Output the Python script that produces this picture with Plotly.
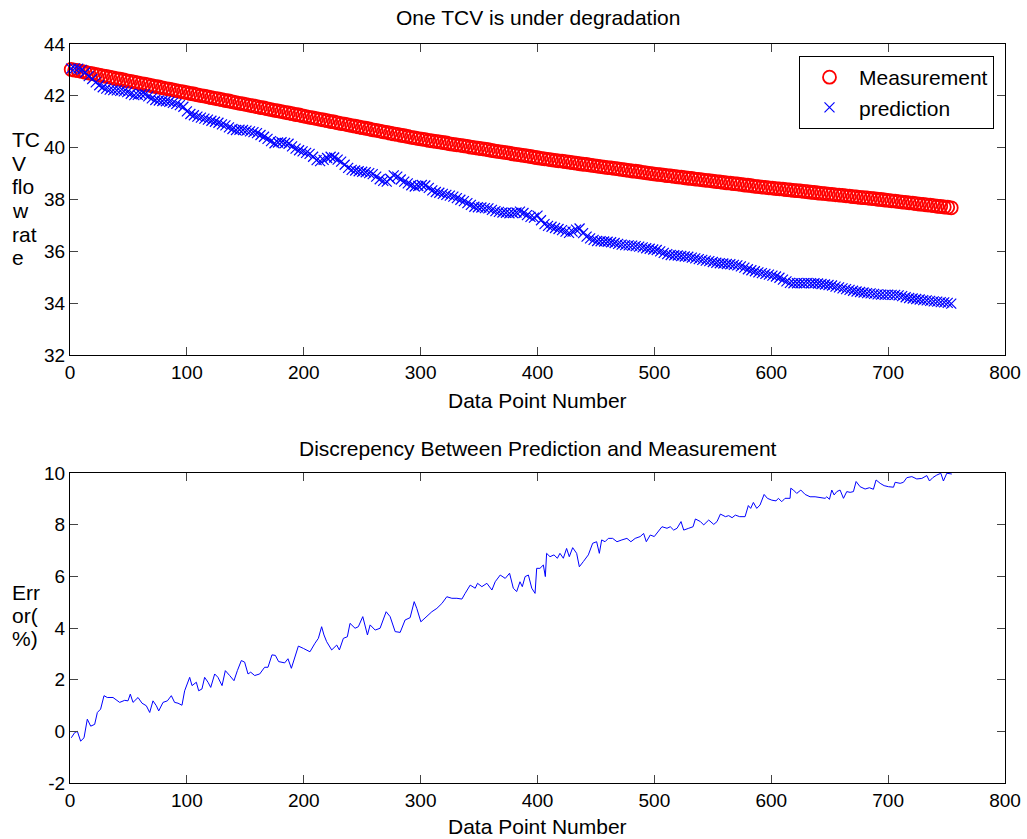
import plotly.graph_objects as go

# ---------------- data ----------------
# Top panel: sampled every 3 data points starting at point 1
measurement = [
    43.02, 42.99, 42.97, 42.94, 42.91, 42.88, 42.86, 42.83, 42.80, 42.77,
    42.75, 42.72, 42.69, 42.66, 42.64, 42.61, 42.58, 42.56, 42.53, 42.50,
    42.47, 42.45, 42.42, 42.39, 42.36, 42.34, 42.31, 42.28, 42.26, 42.23,
    42.20, 42.17, 42.15, 42.12,
    42.09, 42.07, 42.04, 42.01, 41.99, 41.96, 41.93, 41.90, 41.88, 41.85,
    41.82, 41.80, 41.77, 41.74, 41.71, 41.69, 41.66, 41.63, 41.61, 41.58,
    41.55, 41.53, 41.50, 41.47, 41.44, 41.42, 41.39, 41.36, 41.34, 41.31,
    41.28, 41.26, 41.23,
    41.20, 41.17, 41.15, 41.12, 41.09, 41.07, 41.04, 41.01, 40.99, 40.96,
    40.93, 40.91, 40.88, 40.85, 40.83, 40.80, 40.77, 40.75, 40.72, 40.69,
    40.67, 40.64, 40.61, 40.59, 40.56, 40.53, 40.51, 40.48, 40.46, 40.43,
    40.40, 40.38, 40.35, 40.33,
    40.31, 40.28, 40.26, 40.24, 40.22, 40.20, 40.18, 40.15, 40.13, 40.11,
    40.09, 40.07, 40.05, 40.02, 40.00, 39.98, 39.96, 39.94, 39.92, 39.89,
    39.87, 39.85, 39.83, 39.81, 39.79, 39.76, 39.74, 39.72, 39.70, 39.68,
    39.66, 39.63, 39.61,
    39.59, 39.57, 39.55, 39.53, 39.51, 39.49, 39.48, 39.46, 39.44, 39.42,
    39.40, 39.38, 39.36, 39.35, 39.33, 39.31, 39.29, 39.27, 39.25, 39.23,
    39.22, 39.20, 39.18, 39.16, 39.14, 39.12, 39.10, 39.09, 39.07, 39.05,
    39.03, 39.01, 38.99,
    38.97, 38.96, 38.94, 38.92, 38.91, 38.89, 38.87, 38.86, 38.84, 38.82,
    38.81, 38.79, 38.78, 38.76, 38.74, 38.73, 38.71, 38.69, 38.68, 38.66,
    38.64, 38.63, 38.61, 38.60, 38.58, 38.56, 38.55, 38.53, 38.51, 38.50,
    38.48, 38.47, 38.45,
    38.44, 38.42, 38.41, 38.40, 38.38, 38.37, 38.35, 38.34, 38.33, 38.31,
    38.30, 38.28, 38.27, 38.25, 38.24, 38.23, 38.21, 38.20, 38.18, 38.17,
    38.16, 38.14, 38.13, 38.11, 38.10, 38.08, 38.07, 38.06, 38.04, 38.03,
    38.01, 38.00, 37.98, 37.97,
    37.95, 37.94, 37.92, 37.90, 37.89, 37.87, 37.86, 37.84, 37.82, 37.81,
    37.79, 37.78, 37.76, 37.74, 37.73, 37.71, 37.70, 37.68,
]
prediction = [
    43.05, 43.06, 43.05, 43.00, 42.90, 42.76, 42.65, 42.52, 42.41, 42.33,
    42.28, 42.24, 42.22, 42.21, 42.19, 42.17, 42.14, 42.08, 42.03, 42.04,
    42.06, 42.06, 41.98, 41.90, 41.84, 41.82, 41.80, 41.79, 41.77, 41.73,
    41.69, 41.64, 41.58, 41.40,
    41.30, 41.25, 41.20, 41.16, 41.12, 41.08, 41.04, 41.00, 40.96, 40.90,
    40.86, 40.78, 40.72, 40.68, 40.69, 40.68, 40.66, 40.63, 40.60, 40.56,
    40.49, 40.42, 40.34, 40.25, 40.17, 40.20, 40.21, 40.18, 40.15, 40.05,
    39.96, 39.90, 39.86,
    39.80, 39.76, 39.65, 39.52, 39.48, 39.53, 39.60, 39.65, 39.62, 39.54,
    39.46, 39.34, 39.22, 39.14, 39.12, 39.09, 39.07, 39.05, 39.02, 38.98,
    38.88, 38.78, 38.72, 38.69, 38.80, 38.93, 38.88, 38.77, 38.69, 38.62,
    38.55, 38.50, 38.52, 38.56,
    38.54, 38.45, 38.35, 38.29, 38.26, 38.22, 38.18, 38.15, 38.11, 38.05,
    37.99, 37.94, 37.86, 37.79, 37.72, 37.70, 37.69, 37.67, 37.66, 37.60,
    37.55, 37.52, 37.50, 37.49, 37.47, 37.48, 37.50, 37.53, 37.48, 37.40,
    37.33, 37.30, 37.38,
    37.20, 37.05, 36.98, 36.95, 36.90, 36.86, 36.82, 36.76, 36.71, 36.76,
    36.84, 36.88, 36.70, 36.57, 36.50, 36.44, 36.40, 36.39, 36.38, 36.37,
    36.35, 36.32, 36.29, 36.26, 36.24, 36.23, 36.22, 36.20, 36.18, 36.15,
    36.12, 36.10, 36.07,
    36.05, 36.00, 35.94, 35.89, 35.86, 35.85, 35.84, 35.82, 35.80, 35.79,
    35.76, 35.73, 35.70, 35.67, 35.64, 35.62, 35.59, 35.56, 35.54, 35.53,
    35.51, 35.50, 35.48, 35.46, 35.42, 35.37, 35.31, 35.27, 35.23, 35.19,
    35.16, 35.13, 35.10,
    35.06, 35.03, 34.98, 34.91, 34.84, 34.78, 34.77, 34.77, 34.77, 34.77,
    34.78, 34.77, 34.77, 34.76, 34.74, 34.72, 34.70, 34.68, 34.64, 34.61,
    34.57, 34.54, 34.51, 34.48, 34.45, 34.43, 34.41, 34.39, 34.38, 34.36,
    34.34, 34.33, 34.32, 34.33,
    34.32, 34.32, 34.30, 34.27, 34.23, 34.20, 34.18, 34.16, 34.14, 34.12,
    34.11, 34.09, 34.07, 34.06, 34.04, 34.03, 34.01, 33.98,
]
sample_points = list(range(1, 1 + 3 * len(measurement), 3))

# Bottom panel: error (%) read at data point positions
error_points = [
    1.1, 4.0, 6.3, 9.1, 12, 14.8, 17.7, 21.1, 23.4, 26.2, 29.1, 31.9, 36.8, 42.5,
    46.8, 49.6, 51.6, 53.9, 58.2, 61.6, 65.3, 68.2, 71, 73.9, 75.9, 79.6, 83.3,
    86.7, 89.5, 92.4, 95.8, 98.1, 102.4, 104.4, 108.1, 110.1, 112.9, 115.2,
    118.1, 120.4, 123.8, 126.6, 130.1, 132.9, 136.6, 140.3, 143.2, 146.6, 149.4,
    152.3, 154.6, 158, 162.3, 166.5, 169.4, 172.8, 175.7, 178.5, 183.7, 186.5,
    189.4, 192.2, 195.4, 199.7, 205.3, 209.6, 212.5, 215.3, 217.3, 219.6, 223.9,
    228.2, 230.5, 233.9, 237.3, 239.6, 243.9, 246.7, 250.5, 254.5, 256.8, 261.1,
    265.3, 270.5, 273.9, 278.2, 282.5, 286.7, 291, 294.5, 296.7, 300.2, 305.3,
    309.6, 313.9, 318.2, 322.4, 326.7, 331, 335.3, 338.1, 342.4, 346.7, 348.7,
    352.4, 356.7, 361, 363.8, 368.1, 372.4, 376.1, 379.3, 382.2, 385, 387,
    389.4, 392.2, 395.1, 397.9, 399.3, 402.1, 405, 406.7, 407.8, 410.7, 414.1,
    417, 419.2, 422.1, 424.9, 427.2, 430.1, 433.5, 435.8, 439.2, 443.5, 447.2,
    450.6, 452.9, 454.9, 457.8, 460.6, 464.3, 468, 472.2, 476.5, 479.9, 483.6,
    487.9, 490.8, 493.1, 496.5, 499.9, 503.6, 506.5, 510.8, 513.6, 516.5, 519.4,
    522.8, 525.1, 529.4, 533.1, 535.1, 539.4, 542.2, 546.5, 550.8, 553.6, 556.5,
    560.8, 563.6, 566.5, 569.3, 573, 577.6, 580.4, 582.4, 584.7, 587.6, 590.4,
    593.9, 596.7, 600.4, 604.1, 606.1, 609, 611.8, 616.1, 616.7, 619, 621.8,
    625.3, 629, 633.2, 637.5, 641.8, 646.1, 647.5, 649.8, 651.8, 653.8, 656.1,
    658.9, 661.8, 664.6, 667.5, 670.3, 672.6, 676, 680.3, 684, 687.4, 689.7,
    693.2, 696.6, 700.3, 704.6, 706, 710.3, 713.1, 716, 720.3, 724.5, 728.8,
    733.1, 735.4, 738.2, 741.6, 745.1, 747.3, 750.2, 754.5,
]
error_pct = [
    -0.25, -0.05, 0.0, -0.38, -0.25, 0.47, 0.2, 0.27, 0.73, 0.86, 1.38, 1.31, 1.31, 1.12,
    1.2, 1.18, 1.44, 1.12, 1.31, 1.09, 0.99, 0.73, 1.18, 0.99, 0.79, 1.12, 1.18,
    1.38, 1.12, 1.09, 1.01, 1.57, 2.09, 1.77, 1.9, 1.57, 1.64, 2.09,
    1.9, 1.7, 2.22, 2.09, 1.77, 2.35, 2.16, 1.96, 2.35, 2.74, 2.68,
    2.22, 2.29, 2.16, 2.22, 2.48, 2.48, 2.96, 2.94, 2.7, 2.65, 2.81,
    2.44, 2.81, 3.3, 3.21, 3.08, 3.41, 3.6, 4.05, 3.73, 3.47, 3.15,
    3.34, 3.15, 3.6, 3.66, 4.18, 3.99, 4.05, 4.44, 3.73, 4.12, 3.92,
    3.99, 4.63, 4.44, 3.86, 3.83, 4.31, 4.4, 5.02, 4.76, 4.24, 4.44,
    4.63, 4.76, 4.95, 5.21, 5.15, 5.15, 5.12, 5.34, 5.66, 5.54, 5.73,
    5.6, 5.73, 5.47, 5.79, 6.05, 5.92, 6.12, 5.54, 5.41, 5.79, 5.6,
    5.99, 6.05, 5.54, 5.34, 6.31, 6.31, 6.44, 5.99, 6.89, 6.76, 6.83,
    6.7, 6.89, 6.7, 7.08, 6.76, 7.11, 6.89, 6.37, 6.57, 6.83, 7.28,
    7.34, 6.89, 7.41, 7.34, 7.47, 7.47, 7.34, 7.41, 7.47, 7.34, 7.47,
    7.54, 7.66, 7.34, 7.6, 7.54, 7.73, 7.92, 7.86, 7.92, 7.79, 7.86,
    8.12, 7.79, 7.86, 7.92, 8.22, 8.12, 7.99, 8.18, 8.01, 8.12, 8.41,
    8.31, 8.35, 8.27, 8.37, 8.31, 8.31, 8.74, 8.63, 8.86, 8.63, 8.76,
    9.17, 9.02, 8.95, 8.92, 9.02, 8.89, 9.02, 9.02, 9.41, 9.34, 9.21,
    9.34, 9.17, 9.08, 9.08, 9.06, 9.02, 9.08, 8.98, 9.34, 9.15, 9.28,
    9.34, 9.02, 9.28, 9.25, 9.28, 9.67, 9.47, 9.38, 9.43, 9.37, 9.73,
    9.6, 9.51, 9.47, 9.45, 9.64, 9.6, 9.64, 9.82, 9.86, 9.77, 9.79,
    9.9, 9.69, 9.82, 9.92, 9.99, 9.69, 9.99, 9.96,
]

x_ticks = [0, 100, 200, 300, 400, 500, 600, 700, 800]
top_y_ticks = [32, 34, 36, 38, 40, 42, 44]
bottom_y_ticks = [-2, 0, 2, 4, 6, 8, 10]
bottom_y_labels = ["-2", "0", "2", "4", "6", "8", "10"]
top_ylabel_lines = ["TC", "V", "flo", "w", "rat", "e"]
bottom_ylabel_lines = ["Err", "or(", "%)"]

# ---------------- layout helpers ----------------
W, H = 1027, 839
FONT = "Liberation Sans, Arial, Helvetica, sans-serif"
FS_TICK = 19
FS_TEXT = 21


def px_x(p):
    return p / W


def px_y(p):
    return 1 - p / H


fig = go.Figure()

fig.add_trace(go.Scatter(
    x=sample_points, y=measurement, mode="markers", name="Measurement",
    marker=dict(symbol="circle-open", size=13, color="#ff0000", line=dict(width=1.8, color="#ff0000")),
    xaxis="x", yaxis="y", cliponaxis=False,
))
fig.add_trace(go.Scatter(
    x=sample_points, y=prediction, mode="markers", name="prediction",
    marker=dict(symbol="x-thin", size=10, color="#0000ff", line=dict(width=1.2, color="#0000ff")),
    xaxis="x", yaxis="y", cliponaxis=False,
))
fig.add_trace(go.Scatter(
    x=error_points, y=error_pct, mode="lines", showlegend=False,
    line=dict(color="#0000ff", width=1),
    xaxis="x2", yaxis="y2",
))

axis_common = dict(
    showgrid=False, zeroline=False, showline=True, linecolor="black", linewidth=1,
    mirror="ticks", ticks="inside", ticklen=8, tickcolor="#444444", tickwidth=1,
    tickfont=dict(family=FONT, size=FS_TICK, color="black"),
)

fig.update_layout(
    width=W, height=H,
    margin=dict(l=0, r=0, t=0, b=0, autoexpand=False),
    paper_bgcolor="white", plot_bgcolor="white",
    font=dict(family=FONT, size=FS_TICK, color="black"),
    xaxis=dict(domain=[px_x(70), px_x(1005)], range=[0, 800], tickvals=x_ticks,
               anchor="y", **axis_common),
    yaxis=dict(domain=[px_y(355), px_y(44)], range=[32, 44], tickvals=top_y_ticks,
               anchor="x", **axis_common),
    xaxis2=dict(domain=[px_x(70), px_x(1005)], range=[0, 800], tickvals=x_ticks,
                anchor="y2", **axis_common),
    yaxis2=dict(domain=[px_y(783), px_y(473)], range=[-2, 10], tickvals=bottom_y_ticks,
                ticktext=bottom_y_labels, anchor="x2", **axis_common),
    legend=dict(
        x=px_x(994), xanchor="right", y=px_y(56), yanchor="top",
        bgcolor="white", bordercolor="black", borderwidth=1,
        font=dict(family=FONT, size=21, color="black"),
        itemwidth=49, tracegroupgap=0,
    ),
    showlegend=True,
)

ann = dict(xref="paper", yref="paper", showarrow=False,
           font=dict(family=FONT, size=FS_TEXT, color="black"))
cx = px_x(537.5)
fig.add_annotation(text="One TCV is under degradation", x=cx, y=px_y(18), xanchor="center", yanchor="middle", **ann)
fig.add_annotation(text="Data Point Number", x=cx, y=px_y(400), xanchor="center", yanchor="middle", **ann)
fig.add_annotation(text="Discrepency Between Prediction and Measurement", x=cx, y=px_y(448), xanchor="center", yanchor="middle", **ann)
fig.add_annotation(text="Data Point Number", x=cx, y=px_y(826), xanchor="center", yanchor="middle", **ann)
for i, line in enumerate(top_ylabel_lines):
    fig.add_annotation(text=line, x=px_x(10), y=px_y(140 + 23.5 * i), xanchor="left", yanchor="middle", **ann)
for i, line in enumerate(bottom_ylabel_lines):
    fig.add_annotation(text=line, x=px_x(10), y=px_y(592 + 23 * i), xanchor="left", yanchor="middle", **ann)

fig.write_html("out.html")
